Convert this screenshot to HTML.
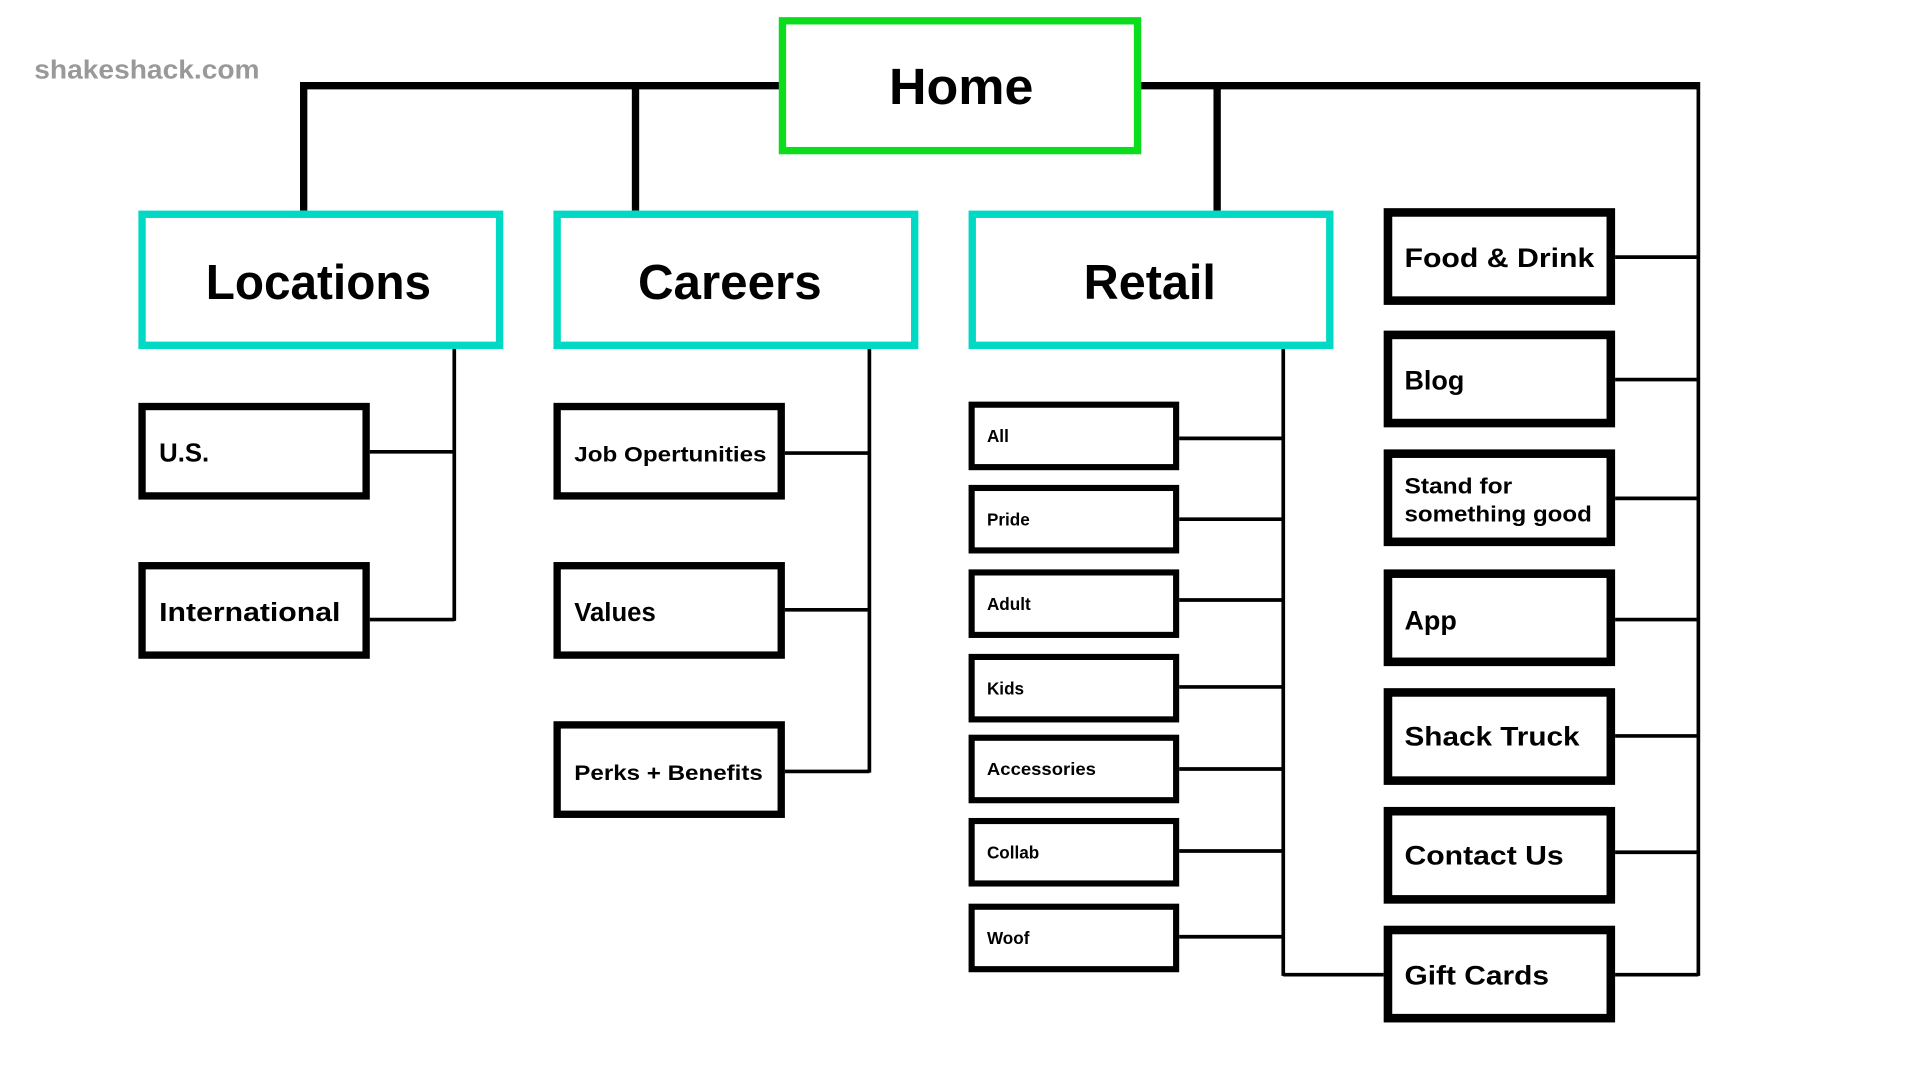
<!DOCTYPE html>
<html><head><meta charset="utf-8"><style>html,body{margin:0;padding:0;background:#fff;}svg{display:block}</style></head>
<body>
<svg width="1920" height="1080" viewBox="0 0 1568 882" preserveAspectRatio="none" xmlns="http://www.w3.org/2000/svg" font-family="Liberation Sans, sans-serif" font-weight="bold">
<rect width="1568" height="882" fill="#fff"/>
<text x="28" y="64" font-size="21" fill="#999" textLength="184" lengthAdjust="spacingAndGlyphs">shakeshack.com</text>
<g stroke="#000" fill="none">
<path d="M248 70H1387M248 67V172M519 67V172M994 67V172" stroke-width="6"/>
<path d="M1387 67V797" stroke-width="3"/>
<path d="M371 285V507M302 369H371M302 506H371" stroke-width="3"/>
<path d="M710 285V631M641 370H710M641 498H710M641 630H710" stroke-width="3"/>
<path d="M1048 285V797M963 358H1048M963 424H1048M963 490H1048M963 561H1048M963 628H1048M963 695H1048M963 765H1048M1048 796H1130" stroke-width="3"/>
<path d="M1319 210H1387M1319 310H1387M1319 407H1387M1319 506H1387M1319 601H1387M1319 696H1387M1319 796H1387" stroke-width="3"/>
</g>
<rect x="639" y="17" width="290" height="106" fill="#fff" stroke="#0bdc1b" stroke-width="6"/>
<text x="785" y="85" font-size="42" text-anchor="middle" textLength="118" lengthAdjust="spacingAndGlyphs">Home</text>
<g fill="#fff" stroke="#00d9c4" stroke-width="6">
<rect x="116" y="175" width="292" height="107"/>
<rect x="455" y="175" width="292" height="107"/>
<rect x="794" y="175" width="292" height="107"/>
</g>
<g font-size="40" text-anchor="middle">
<text x="260" y="244" textLength="184" lengthAdjust="spacingAndGlyphs">Locations</text>
<text x="596" y="244" textLength="150" lengthAdjust="spacingAndGlyphs">Careers</text>
<text x="939" y="244" textLength="108" lengthAdjust="spacingAndGlyphs">Retail</text>
</g>
<g fill="#fff" stroke="#000" stroke-width="6">
<rect x="116" y="332" width="183" height="73"/>
<rect x="116" y="462" width="183" height="73"/>
<rect x="455" y="332" width="183" height="73"/>
<rect x="455" y="462" width="183" height="73"/>
<rect x="455" y="592" width="183" height="73"/>
</g>
<g stroke="#000" stroke-width="5" fill="#fff">
<rect x="793.5" y="330.5" width="167" height="51"/>
<rect x="793.5" y="398.5" width="167" height="51"/>
<rect x="793.5" y="467.5" width="167" height="51"/>
<rect x="793.5" y="536.5" width="167" height="51"/>
<rect x="793.5" y="602.5" width="167" height="51"/>
<rect x="793.5" y="670.5" width="167" height="51"/>
<rect x="793.5" y="740.5" width="167" height="51"/>
</g>
<g stroke="#000" stroke-width="7" fill="#fff">
<rect x="1133.5" y="173.5" width="182" height="72"/>
<rect x="1133.5" y="273.5" width="182" height="72"/>
<rect x="1133.5" y="370.5" width="182" height="72"/>
<rect x="1133.5" y="468.5" width="182" height="72"/>
<rect x="1133.5" y="565.5" width="182" height="72"/>
<rect x="1133.5" y="662.5" width="182" height="72"/>
<rect x="1133.5" y="759.5" width="182" height="72"/>
</g>
<g font-size="21">
<text x="130" y="377">U.S.</text>
<text x="130" y="507" textLength="148" lengthAdjust="spacingAndGlyphs">International</text>
<text x="469" y="507">Values</text>
</g>
<g font-size="17">
<text x="469" y="377" textLength="157" lengthAdjust="spacingAndGlyphs">Job Opertunities</text>
<text x="469" y="637" textLength="154" lengthAdjust="spacingAndGlyphs">Perks + Benefits</text>
</g>
<g font-size="14">
<text x="806" y="361">All</text>
<text x="806" y="429">Pride</text>
<text x="806" y="498">Adult</text>
<text x="806" y="567">Kids</text>
<text x="806" y="633" textLength="89" lengthAdjust="spacingAndGlyphs">Accessories</text>
<text x="806" y="701">Collab</text>
<text x="806" y="771">Woof</text>
</g>
<g font-size="22">
<text x="1147" y="218" textLength="155" lengthAdjust="spacingAndGlyphs">Food &amp; Drink</text>
<text x="1147" y="318">Blog</text>
<text x="1147" y="514">App</text>
<text x="1147" y="609" textLength="143" lengthAdjust="spacingAndGlyphs">Shack Truck</text>
<text x="1147" y="706" textLength="130" lengthAdjust="spacingAndGlyphs">Contact Us</text>
<text x="1147" y="804" textLength="118" lengthAdjust="spacingAndGlyphs">Gift Cards</text>
</g>
<g font-size="18">
<text x="1147" y="403" textLength="88" lengthAdjust="spacingAndGlyphs">Stand for</text>
<text x="1147" y="426" textLength="153" lengthAdjust="spacingAndGlyphs">something good</text>
</g>
</svg>
</body></html>
